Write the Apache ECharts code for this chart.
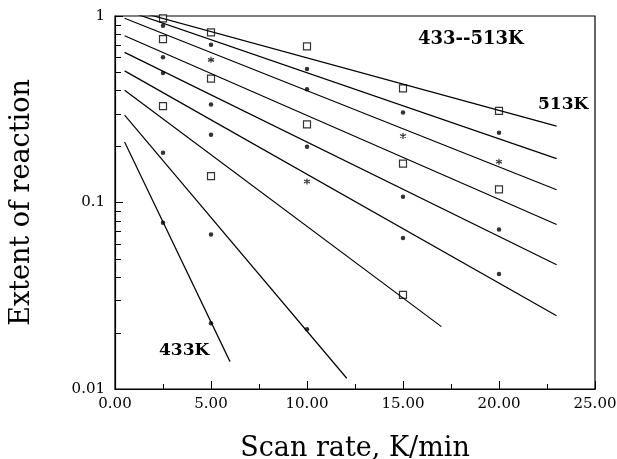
<!DOCTYPE html>
<html>
<head>
<meta charset="utf-8">
<script src="https://cdn.jsdelivr.net/npm/echarts@6/dist/echarts.min.js"></script>
<style>
  html, body { margin: 0; padding: 0; background: #fff; }
  #main { width: 617px; height: 459px; }
</style>
</head>
<body>
<div id="main"></div>
<script>
var myChart = echarts.init(document.getElementById('main'));

// fitted lines, one per temperature: start and end points
var fitNames = ['513K', '503K', '493K', '483K', '473K', '463K', '453K', '443K', '433K'];
var fitX0 = [0.5, 0.5, 0.5, 0.5, 0.5, 0.5, 0.5, 0.5, 0.5];
var fitY0 = [1.104, 1.077, 0.972, 0.784, 0.638, 0.508, 0.400, 0.294, 0.211];
var fitX1 = [23, 23, 23, 23, 23, 23, 17.0, 12.07, 5.99];
var fitY1 = [0.257, 0.172, 0.117, 0.0762, 0.0464, 0.0247, 0.0216, 0.01142, 0.01402];

// measured points, by marker type
var squarePts = [[2.5, 0.972], [2.5, 0.752], [2.5, 0.329], [5, 0.817], [5, 0.462], [5, 0.1384],
  [10, 0.687], [10, 0.2626], [15, 0.4087], [15, 0.1615], [15, 0.032], [20, 0.3096], [20, 0.1175]];
var dotPts = [[2.5, 0.887], [2.5, 0.600], [2.5, 0.494], [2.5, 0.185], [2.5, 0.0778],
  [5, 0.701], [5, 0.335], [5, 0.231], [5, 0.0673], [5, 0.02255],
  [10, 0.519], [10, 0.405], [10, 0.1993], [10, 0.02094],
  [15, 0.3035], [15, 0.1073], [15, 0.0646], [20, 0.2369], [20, 0.0716], [20, 0.0414]];
var starPts = [[5, 0.582], [10, 0.1297], [15, 0.2273], [20, 0.1655]];

// log minor tick values on the y axis
var minorTickValues = [0.02, 0.03, 0.04, 0.05, 0.06, 0.07, 0.08, 0.09,
  0.2, 0.3, 0.4, 0.5, 0.6, 0.7, 0.8, 0.9];

var serif = 'DejaVu Serif';
var star = 'path://M0,-5L0,5M-4.3,-2.5L4.3,2.5M-4.3,2.5L4.3,-2.5';

var series = [];
for (var i = 0; i < fitNames.length; i++) {
  series.push({
    name: fitNames[i],
    type: 'line',
    data: [[fitX0[i], fitY0[i]], [fitX1[i], fitY1[i]]],
    symbol: 'none',
    silent: true,
    lineStyle: { color: '#000', width: 1.2 }
  });
}
series.push({
  type: 'scatter', data: squarePts, symbol: 'rect', symbolSize: 7,
  itemStyle: { color: '#fff', borderColor: '#000', borderWidth: 1.2 }
});
series.push({
  type: 'scatter', data: dotPts, symbol: 'circle', symbolSize: 4.5,
  itemStyle: { color: '#000' }
});
series.push({
  type: 'scatter', data: starPts, symbol: star, symbolSize: 6,
  itemStyle: { color: '#000', borderColor: '#000', borderWidth: 1.2 }
});
// minor ticks of the log axis, placed through the axes' own scales
series.push({
  type: 'custom',
  silent: true,
  clip: false,
  z: 10,
  data: minorTickValues.map(function (v) { return [0, v]; }),
  encode: { x: 0, y: 1 },
  renderItem: function (params, api) {
    var p = api.coord([api.value(0), api.value(1)]);
    var y = Math.round(p[1]) + 0.5;
    return {
      type: 'line',
      shape: { x1: p[0], y1: y, x2: p[0] + 6, y2: y },
      style: { stroke: '#000', lineWidth: 1 }
    };
  }
});

var option = {
  animation: false,
  backgroundColor: '#fff',
  grid: {
    left: 115, right: 22, top: 16, bottom: 70,
    outerBoundsMode: 'none',
    show: true, borderColor: '#000', borderWidth: 1.2
  },
  xAxis: {
    type: 'value',
    min: 0, max: 25, interval: 5,
    name: 'Scan rate, K/min',
    nameLocation: 'middle',
    nameGap: 46,
    nameTextStyle: { fontFamily: serif, fontSize: 27, color: '#000' },
    axisLine: { lineStyle: { color: '#000', width: 1.2 } },
    axisTick: { inside: true, length: 8, lineStyle: { color: '#000' } },
    minorTick: { show: true, splitNumber: 2, length: 5, lineStyle: { color: '#000' } },
    splitLine: { show: false },
    axisLabel: {
      fontFamily: serif, fontSize: 15, color: '#000', margin: 8,
      formatter: function (v) { return v.toFixed(2); }
    }
  },
  yAxis: {
    type: 'log',
    logBase: 10,
    min: 0.01, max: 1,
    name: 'Extent of reaction',
    nameLocation: 'middle',
    nameGap: 80,
    nameTextStyle: { fontFamily: serif, fontSize: 27, color: '#000' },
    axisLine: { lineStyle: { color: '#000', width: 1.2 } },
    axisTick: { show: true, inside: true, length: 8, lineStyle: { color: '#000', width: 1 } },
    splitLine: { show: false },
    axisLabel: {
      fontFamily: serif, fontSize: 15, color: '#000', margin: 10,
      formatter: function (v) { return String(v); }
    }
  },
  graphic: [
    { type: 'text', left: 418, top: 30,
      style: { text: '433--513K', font: 'bold 18px "DejaVu Serif"', fill: '#000' } },
    { type: 'text', left: 538, top: 96,
      style: { text: '513K', font: 'bold 17px "DejaVu Serif"', fill: '#000' } },
    { type: 'text', left: 159, top: 342,
      style: { text: '433K', font: 'bold 17px "DejaVu Serif"', fill: '#000' } }
  ],
  series: series
};
myChart.setOption(option);
</script>
</body>
</html>
